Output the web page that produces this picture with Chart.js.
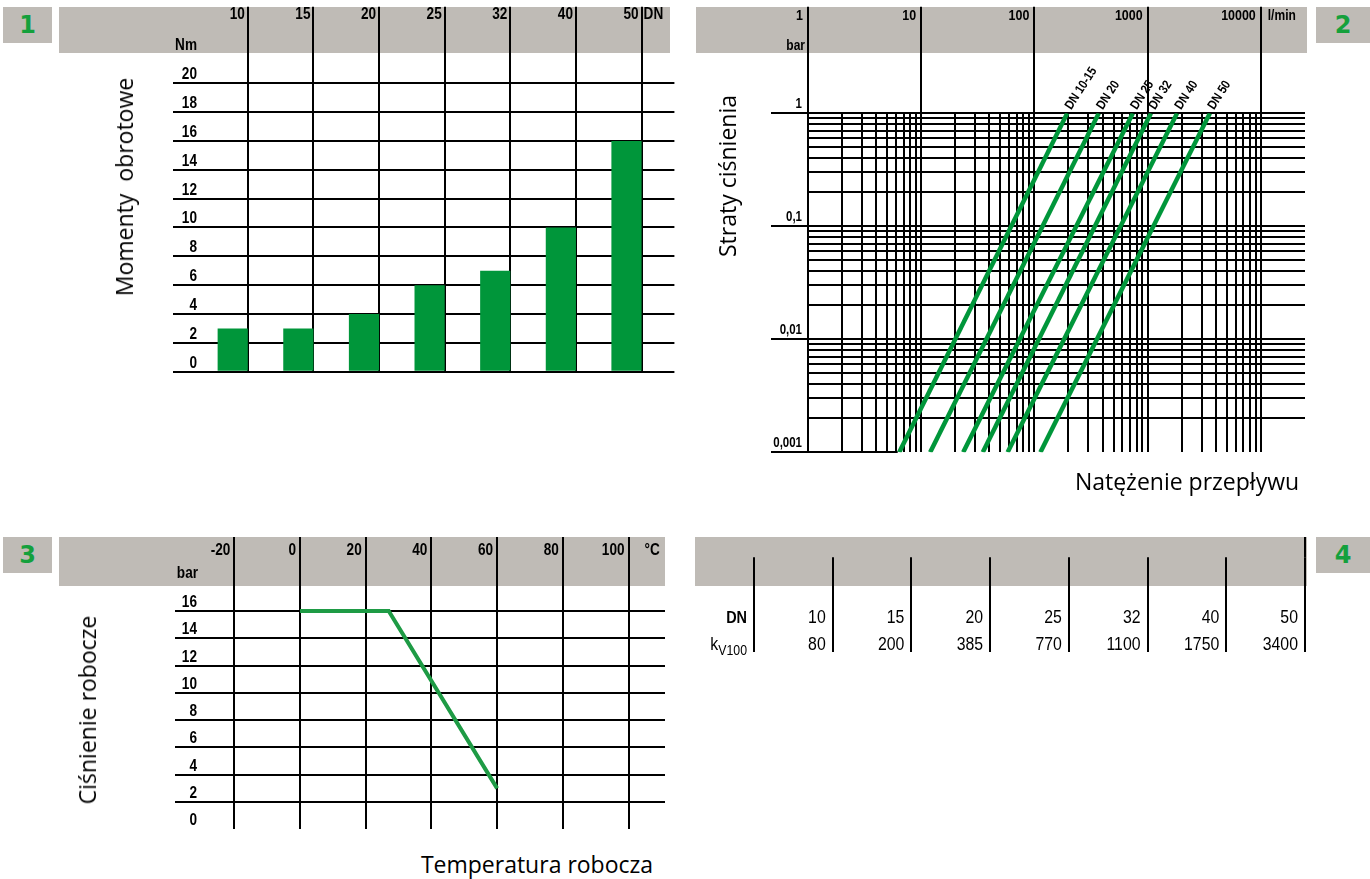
<!DOCTYPE html>
<html lang="pl">
<head>
<meta charset="utf-8">
<title>Zawór kulowy – wykresy</title>
<script src="https://cdn.jsdelivr.net/npm/chart.js@4.4.1/dist/chart.umd.min.js"></script>
<style>
  html, body { margin: 0; padding: 0; background: #fff; }
  body { width: 1370px; height: 879px; position: relative; overflow: hidden; font-family: "Open Sans", sans-serif; }
  .band { position: absolute; background: #bfbbb6; }
  .badge { position: absolute; background: #bfbbb6; color: #14a03c; font: bold 24px "DejaVu Sans", sans-serif;
           display: flex; align-items: center; justify-content: center; }
  .title { position: absolute; font-size: 23px; color: #000; white-space: pre; transform: translate(-50%, -50%); }
  .title.rot { transform: translate(-50%, -50%) rotate(-90deg); }
  canvas { position: absolute; }
</style>
</head>
<body>

<!-- gray header bands and number badges -->
<div class="badge" style="left:3px; top:7px; width:49px; height:36px;">1</div>
<div class="band" style="left:59px; top:7px; width:611px; height:46px;"></div>
<div class="band" style="left:696px; top:7px; width:611px; height:46px;"></div>
<div class="badge" style="left:1316px; top:7px; width:54px; height:36px;">2</div>
<div class="badge" style="left:3px; top:537px; width:49px; height:36px;">3</div>
<div class="band" style="left:59px; top:537px; width:606px; height:49px;"></div>
<div class="band" style="left:695px; top:537px; width:612px; height:49px;"></div>
<div class="badge" style="left:1316px; top:537px; width:54px; height:36px;">4</div>

<canvas id="torqueChart" width="630" height="390" style="left:60px; top:0px;"></canvas>
<canvas id="lossChart" width="680" height="470" style="left:690px; top:0px;"></canvas>
<canvas id="tempChart" width="630" height="310" style="left:60px; top:530px;"></canvas>
<canvas id="kvChart" width="680" height="140" style="left:690px; top:530px;"></canvas>

<div class="title rot" style="left:124px; top:187px;">Momenty  obrotowe</div>
<div class="title rot" style="left:727px; top:176px;">Straty ciśnienia</div>
<div class="title" style="left:1187px; top:481px;">Natężenie przepływu</div>
<div class="title rot" style="left:87px; top:710px;">Ciśnienie robocze</div>
<div class="title" style="left:537px; top:864px;">Temperatura robocza</div>

<script>
// =========================
// Data
// =========================

// 1 - torque per nominal size
const dnSizes = ["10", "15", "20", "25", "32", "40", "50"];
const torqueNm = [3, 3, 4, 6, 7, 10, 16];
const torqueTicks = [0, 2, 4, 6, 8, 10, 12, 14, 16, 18, 20];

// 2 - pressure loss vs flow (straight lines on log-log, read at both ends)
const lossNames = ["DN 10-15", "DN 20", "DN 25", "DN 32", "DN 40", "DN 50"];
const flowAtLow = [6.4, 12, 23.5, 35, 58, 113];          // l/min at 0,001 bar
const flowAtHigh = [195, 370, 740, 1070, 1820, 3550];     // l/min at 1 bar
const lossEnds = [0.001, 1];                              // bar
const flowDecades = [1, 10, 100, 1000, 10000];
const flowDecadeLabels = ["1", "10", "100", "1000", "10000"];
const lossDecades = [0.001, 0.01, 0.1, 1];
const lossDecadeLabels = ["0,001", "0,01", "0,1", "1"];

// 3 - working pressure vs temperature
const tempC = [0, 27, 60];
const pressureBar = [16, 16, 3];
const tempTicks = [-20, 0, 20, 40, 60, 80, 100];
const pressureTicks = [0, 2, 4, 6, 8, 10, 12, 14, 16];

// 4 - kv100 per nominal size
const kv100 = ["80", "200", "385", "770", "1100", "1750", "3400"];

// =========================
// Shared bits
// =========================

const INK = "#000";
const GREEN = "#00963a";
const TICK_FONT = "'Liberation Sans', Arial, sans-serif";

// condensed-looking label: normal face squeezed horizontally
function txt(ctx, s, x, y, font, align, squeeze) {
  ctx.save();
  ctx.font = font + " " + TICK_FONT;
  ctx.fillStyle = INK;
  ctx.textAlign = align;
  ctx.textBaseline = "alphabetic";
  ctx.translate(x, y);
  ctx.scale(squeeze, 1);
  ctx.fillText(s, 0, 0);
  ctx.restore();
}

function vline(ctx, x, y1, y2) {
  const px = Math.round(x - 1) + 1;
  ctx.save();
  ctx.strokeStyle = INK;
  ctx.lineWidth = 2;
  ctx.beginPath();
  ctx.moveTo(px, y1);
  ctx.lineTo(px, y2);
  ctx.stroke();
  ctx.restore();
}

// 1,2,...,9,10,20,... between two powers of ten
function logGrid(from, to) {
  const out = [];
  for (let d = from; d < to * 0.999; d *= 10) {
    for (let m = 1; m < 10; m++) out.push(+(m * d).toPrecision(3));
  }
  out.push(to);
  return out;
}
const isDecade = v => Math.abs(Math.log10(v) - Math.round(Math.log10(v))) < 1e-9;

const quiet = {
  responsive: false,
  animation: false,
  events: [],
  plugins: { legend: { display: false }, tooltip: { enabled: false } }
};

// =========================
// 1 - Momenty obrotowe
// =========================

const torqueText = {
  id: "torqueText",
  afterDraw(chart) {
    const { ctx, scales: { x, y } } = chart;
    const f = "bold 17px";
    dnSizes.forEach((dn, i) => txt(ctx, dn, x.getPixelForValue(i) - 3, 18.5, f, "right", 0.8));
    txt(ctx, "DN", x.getPixelForValue(dnSizes.length - 1) + 2, 18.5, f, "left", 0.8);
    txt(ctx, "Nm", 137, 50, f, "right", 0.8);
    torqueTicks.forEach(v => txt(ctx, String(v), 137, y.getPixelForValue(v) - 4, f, "right", 0.8));
  }
};

new Chart(document.getElementById("torqueChart"), {
  type: "bar",
  data: {
    labels: dnSizes,
    datasets: [
      { data: torqueNm, backgroundColor: GREEN, categoryPercentage: 0.92, barPercentage: 1 },
      // empty partner so each bar sits in the left half, against its grid line
      { data: [], backgroundColor: "transparent", categoryPercentage: 0.92, barPercentage: 1 }
    ]
  },
  options: {
    ...quiet,
    layout: { padding: { left: 113, right: 15.6, top: 6.7, bottom: 18.3 } },
    scales: {
      x: {
        offset: true,
        border: { display: false },
        ticks: { display: false },
        grid: { offset: false, color: INK, lineWidth: 2, drawTicks: false }
      },
      y: {
        min: 0,
        max: 25.31,
        afterBuildTicks: s => { s.ticks = torqueTicks.map(v => ({ value: v })); },
        border: { display: false },
        ticks: { display: false },
        grid: { color: INK, lineWidth: 2, tickLength: 42 }
      }
    }
  },
  plugins: [torqueText]
});

// =========================
// 2 - Straty ciśnienia
// =========================

const lossDecor = {
  id: "lossDecor",
  beforeDatasetsDraw(chart) {
    const { ctx, chartArea, scales: { x, y } } = chart;
    // decade lines run up through the header
    flowDecades.forEach(v => vline(ctx, x.getPixelForValue(v), 6.7, chartArea.top));
    // the bottom line only shows on the left part
    const yb = Math.round(y.getPixelForValue(lossEnds[0]) - 1) + 1;
    ctx.save();
    ctx.strokeStyle = INK;
    ctx.lineWidth = 2;
    ctx.beginPath();
    ctx.moveTo(chartArea.left, yb);
    ctx.lineTo(x.getPixelForValue(6.2), yb);
    ctx.stroke();
    ctx.restore();
  },
  afterDraw(chart) {
    const { ctx, chartArea, scales: { x, y } } = chart;
    flowDecades.forEach((v, i) => txt(ctx, flowDecadeLabels[i], x.getPixelForValue(v) - 5, 20, "bold 15px", "right", 0.83));
    txt(ctx, "l/min", x.getPixelForValue(10000) + 7, 20, "bold 15px", "left", 0.8);
    txt(ctx, "bar", chartArea.left - 3, 50, "bold 15px", "right", 0.8);
    lossDecades.forEach((v, i) => txt(ctx, lossDecadeLabels[i], chartArea.left - 6, y.getPixelForValue(v) - 5, "bold 14px", "right", 0.82));
    // size labels at the top of each line
    chart.data.datasets.forEach((ds, i) => {
      const top = chart.getDatasetMeta(i).data[1];
      ctx.save();
      ctx.translate(top.x + 1, top.y - 5);
      ctx.rotate(-57 * Math.PI / 180);
      ctx.scale(0.85, 1);
      ctx.font = "bold 13px " + TICK_FONT;
      ctx.fillStyle = INK;
      ctx.textAlign = "left";
      ctx.textBaseline = "middle";
      ctx.fillText(ds.label, 0, 0);
      ctx.restore();
    });
  }
};

new Chart(document.getElementById("lossChart"), {
  type: "line",
  data: {
    datasets: lossNames.map((name, i) => ({
      label: name,
      data: [
        { x: flowAtLow[i], y: lossEnds[0] },
        { x: flowAtHigh[i], y: lossEnds[1] }
      ],
      borderColor: GREEN,
      borderWidth: 4.5,
      borderCapStyle: "butt",
      pointRadius: 0
    }))
  },
  options: {
    ...quiet,
    layout: { padding: { left: 81, right: 65, top: 113.3, bottom: 17.7 } },
    scales: {
      x: {
        type: "logarithmic",
        min: 1,
        max: 24580,
        afterBuildTicks: s => { s.ticks = logGrid(1, 10000).map(v => ({ value: v })); },
        border: { display: false },
        ticks: { display: false },
        grid: { color: INK, lineWidth: 2, drawTicks: false }
      },
      y: {
        type: "logarithmic",
        min: 0.001,
        max: 1,
        afterBuildTicks: s => { s.ticks = logGrid(0.001, 1).map(v => ({ value: v })); },
        border: { display: false },
        ticks: { display: false },
        grid: {
          color: c => (c.tick && c.tick.value === lossEnds[0]) ? "transparent" : INK,
          tickColor: c => (c.tick && isDecade(c.tick.value)) ? INK : "transparent",
          lineWidth: 2,
          tickLength: 37
        }
      }
    }
  },
  plugins: [lossDecor]
});

// =========================
// 3 - Ciśnienie robocze
// =========================

const tempText = {
  id: "tempText",
  afterDraw(chart) {
    const { ctx, scales: { x, y } } = chart;
    const f = "bold 17px";
    tempTicks.forEach(t => txt(ctx, String(t), x.getPixelForValue(t) - 4, 25, f, "right", 0.8));
    txt(ctx, "°C", x.getPixelForValue(100) + 16, 25, f, "left", 0.8);
    txt(ctx, "bar", 138, 48, f, "right", 0.8);
    pressureTicks.forEach(v => txt(ctx, String(v), 137, y.getPixelForValue(v) - 4, f, "right", 0.8));
  }
};

new Chart(document.getElementById("tempChart"), {
  type: "line",
  data: {
    datasets: [{
      data: tempC.map((t, i) => ({ x: t, y: pressureBar[i] })),
      borderColor: "#1e9b45",
      borderWidth: 4,
      borderJoinStyle: "miter",
      borderCapStyle: "butt",
      pointRadius: 0,
      tension: 0
    }]
  },
  options: {
    ...quiet,
    layout: { padding: { left: 115, right: 25, top: 7, bottom: 10.7 } },
    scales: {
      x: {
        type: "linear",
        min: -38.05,
        max: 111.1,
        afterBuildTicks: s => { s.ticks = tempTicks.map(v => ({ value: v })); },
        border: { display: false },
        ticks: { display: false },
        grid: { color: INK, lineWidth: 2, drawTicks: false }
      },
      y: {
        min: 0,
        max: 21.43,
        afterBuildTicks: s => { s.ticks = pressureTicks.filter(v => v > 0).map(v => ({ value: v })); },
        border: { display: false },
        ticks: { display: false },
        grid: { color: INK, lineWidth: 2, drawTicks: false }
      }
    }
  },
  plugins: [tempText]
});

// =========================
// 4 - kv100 table
// =========================

const kvText = {
  id: "kvText",
  afterDraw(chart) {
    const { ctx, chartArea, scales: { x } } = chart;
    vline(ctx, x.getPixelForValue(dnSizes.length), 7, chartArea.top);
    const right = i => x.getPixelForValue(i) - 7;
    const f = "18px";
    txt(ctx, "DN", right(0), 93, "bold 17px", "right", 0.85);
    dnSizes.forEach((dn, i) => txt(ctx, dn, right(i + 1), 93, f, "right", 0.88));
    kv100.forEach((kv, i) => txt(ctx, kv, right(i + 1), 120, f, "right", 0.88));
    // k with subscript V100
    ctx.save();
    ctx.font = "14px " + TICK_FONT;
    const subW = ctx.measureText("V100").width * 0.88;
    ctx.restore();
    txt(ctx, "V100", right(0), 125, "14px", "right", 0.88);
    txt(ctx, "k", right(0) - subW, 120, "18px", "right", 0.88);
  }
};

new Chart(document.getElementById("kvChart"), {
  type: "scatter",
  data: { datasets: [] },
  options: {
    ...quiet,
    layout: { padding: { left: 5, right: 63, top: 27.3, bottom: 18.3 } },
    scales: {
      x: {
        type: "linear",
        min: -0.7496,
        max: 7.0258,
        afterBuildTicks: s => { s.ticks = [0, 1, 2, 3, 4, 5, 6, 7].map(v => ({ value: v })); },
        border: { display: false },
        ticks: { display: false },
        grid: { color: INK, lineWidth: 2, drawTicks: false }
      },
      y: { display: false, min: 0, max: 1 }
    }
  },
  plugins: [kvText]
});
</script>
</body>
</html>
